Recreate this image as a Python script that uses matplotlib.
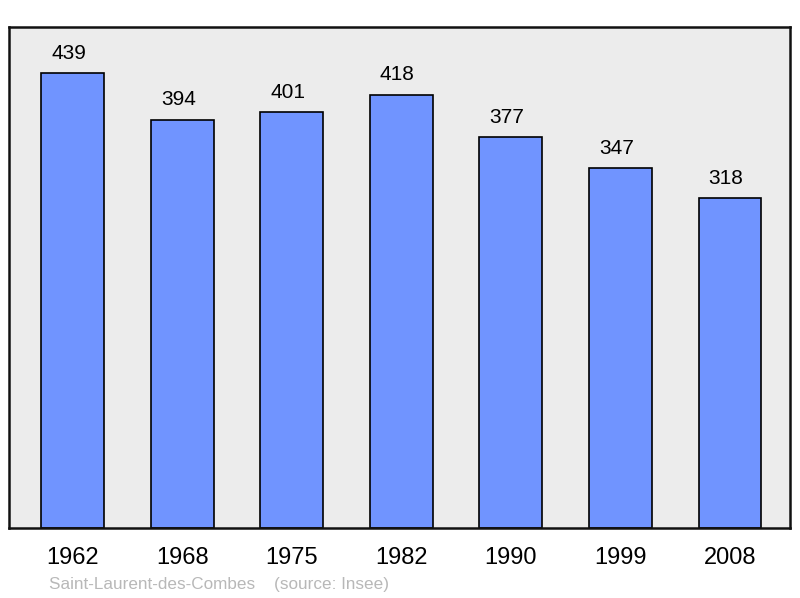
import matplotlib
matplotlib.use("Agg")
import matplotlib.pyplot as plt

years = ["1962", "1968", "1975", "1982", "1990", "1999", "2008"]
population = [439, 394, 401, 418, 377, 347, 318]

plt.rcParams['font.family'] = ['Liberation Sans', 'DejaVu Sans']

fig = plt.figure(figsize=(8, 5.98), dpi=100)
ax = fig.add_axes([9/800, 70/598, 781/800, 501/598])
ax.set_facecolor('#ececec')

x = list(range(len(years)))
ax.bar(x, population, width=0.575, color='#7094ff', edgecolor='black', linewidth=1.2, zorder=2)

# value labels above each bar (slightly left of centre, as in the original)
for xi, v in zip(x, population):
    ax.annotate(str(v), (xi, v), xytext=(-3, 10.4), textcoords='offset points',
                ha='center', va='baseline', fontsize=15, color='black')

ax.set_xlim(-0.584, 6.548)
ax.set_ylim(0, 483.4)
ax.set_xticks(x)
ax.set_xticklabels(years, fontsize=17)
ax.tick_params(axis='x', length=0, pad=14)
ax.set_yticks([])
for s in ax.spines.values():
    s.set_linewidth(1.8)
    s.set_color('#111111')

fig.text(49/800, 1 - 584/598, "Saint-Laurent-des-Combes    (source: Insee)",
         fontsize=12.3, color='#b8b8b8', ha='left', va='center')

fig.savefig("out.png", dpi=100)
